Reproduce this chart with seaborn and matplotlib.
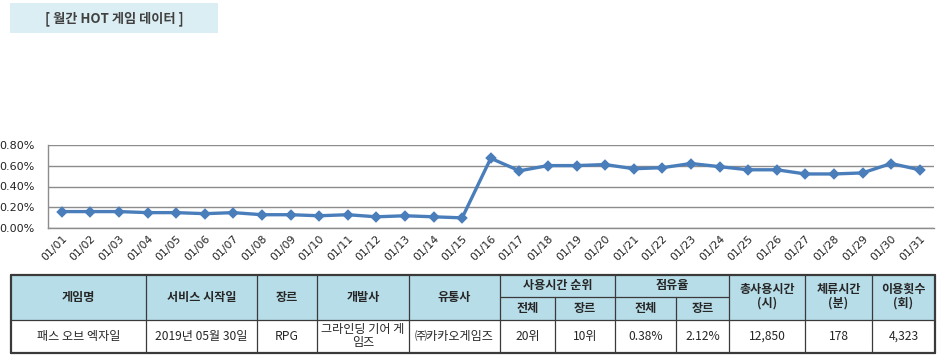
import matplotlib
matplotlib.use("Agg")
import matplotlib.pyplot as plt
import seaborn as sns
import pandas as pd
from matplotlib.patches import Rectangle
from matplotlib.ticker import FuncFormatter, FixedLocator

sns.set_theme(style="white")
plt.rcParams['font.family'] = ['Noto Sans CJK KR', 'DejaVu Sans']

# ---------------- data ----------------
title = "[ 월간 HOT 게임 데이터 ]"
dates = ["01/%02d" % d for d in range(1, 32)]
share = [0.16, 0.16, 0.16, 0.15, 0.15, 0.14, 0.15, 0.13, 0.13, 0.12,
         0.13, 0.11, 0.12, 0.11, 0.10, 0.67, 0.55, 0.60, 0.60, 0.61,
         0.57, 0.58, 0.62, 0.59, 0.56, 0.56, 0.52, 0.52, 0.53, 0.62, 0.56]
yticks = [0.0, 0.2, 0.4, 0.6, 0.8]

main_headers = ["게임명", "서비스 시작일", "장르", "개발사", "유통사"]
group_headers = ["사용시간 순위", "점유율"]
sub_headers = ["전체", "장르", "전체", "장르"]
tail_headers = ["총사용시간\n(시)", "체류시간\n(분)", "이용횟수\n(회)"]
row_values = ["패스 오브 엑자일", "2019년 05월 30일", "RPG", "그라인딩 기어 게\n임즈",
              "㈜카카오게임즈", "20위", "10위", "0.38%", "2.12%", "12,850", "178", "4,323"]

W, H = 940, 357
fig = plt.figure(figsize=(W / 100, H / 100), dpi=100)

# ---------------- chart ----------------
ax = fig.add_axes([47.5 / W, 1 - 228.3 / H, (934 - 47.5) / W, (228.3 - 144.7) / H])
df = pd.DataFrame({"date": dates, "share": share})
sns.pointplot(data=df, x="date", y="share", ax=ax, color="#4A7EBB",
              markers="D", markersize=3.8, linewidth=2.4, errorbar=None)
ax.set_xlim(-0.5, len(dates) - 0.5)
ax.set_ylim(0, 0.8)
ax.set_yticks(yticks)
ax.yaxis.set_major_formatter(FuncFormatter(lambda v, p: "%.2f%%" % v))
ax.grid(axis="y", color="#8C8C8C", linewidth=1.0)
ax.set_axisbelow(True)
ax.set_xlabel("")
ax.set_ylabel("")
for s in ["top", "right"]:
    ax.spines[s].set_visible(False)
for s in ["left", "bottom"]:
    ax.spines[s].set_color("#8C8C8C")
    ax.spines[s].set_linewidth(1.0)
ax.tick_params(axis="y", length=0, labelsize=8, pad=9, labelcolor="#222222")
ax.tick_params(axis="x", which="major", length=0, labelsize=7.8, pad=4,
               labelcolor="#222222")
ax.xaxis.set_minor_locator(FixedLocator([i - 0.5 for i in range(len(dates) + 1)]))
ax.tick_params(axis="x", which="minor", length=4, color="#8C8C8C", width=1)
ax.tick_params(axis="y", which="major", left=False)
for lbl in ax.get_xticklabels():
    lbl.set_rotation(45)
    lbl.set_ha("right")
    lbl.set_rotation_mode("anchor")
for lbl in ax.get_xticklabels() + ax.get_yticklabels():
    lbl.set_family(["DejaVu Sans"])

# ---------------- overlay (title box + table) ----------------
ov = fig.add_axes([0, 0, 1, 1], zorder=5)
ov.set_xlim(0, W)
ov.set_ylim(H, 0)
ov.axis("off")
ov.patch.set_alpha(0)

ov.add_patch(Rectangle((10, 3), 208, 30, facecolor="#DBEEF4", edgecolor="none"))
ov.text(114, 18.5, title, ha="center", va="center", fontsize=9.5,
        fontweight="bold", color="#404040")

cols = [11, 146, 257, 317, 409, 500, 555, 615, 676, 729, 805, 872, 935]
top, mid, hdr_bot, bot = 274.5, 297, 319.5, 353
hdr_col = "#B7DDE8"
line_col = "#3A3A3A"
ov.add_patch(Rectangle((cols[0], top), cols[-1] - cols[0], hdr_bot - top,
                       facecolor=hdr_col, edgecolor="none"))
# grid lines
for i, x in enumerate(cols):
    lw = 1.6 if i in (0, len(cols) - 1) else 0.9
    if i in (6, 8):
        ov.plot([x, x], [mid, bot], color=line_col, lw=lw)
    else:
        ov.plot([x, x], [top, bot], color=line_col, lw=lw)
ov.plot([cols[0], cols[-1]], [top, top], color=line_col, lw=1.6)
ov.plot([cols[0], cols[-1]], [bot, bot], color=line_col, lw=1.6)
ov.plot([cols[0], cols[-1]], [hdr_bot, hdr_bot], color=line_col, lw=0.9)
ov.plot([cols[5], cols[9]], [mid, mid], color=line_col, lw=0.9)

hfs = 8.7
hc = "#262626"
for i, t in enumerate(main_headers):
    ov.text((cols[i] + cols[i + 1]) / 2, (top + hdr_bot) / 2, t, ha="center",
            va="center", fontsize=hfs, fontweight="bold", color=hc)
for g, t in enumerate(group_headers):
    x0, x1 = cols[5 + 2 * g], cols[7 + 2 * g]
    ov.text((x0 + x1) / 2, (top + mid) / 2, t, ha="center", va="center",
            fontsize=hfs, fontweight="bold", color=hc)
for j, t in enumerate(sub_headers):
    ov.text((cols[5 + j] + cols[6 + j]) / 2, (mid + hdr_bot) / 2, t, ha="center",
            va="center", fontsize=hfs, fontweight="bold", color=hc)
for k, t in enumerate(tail_headers):
    ov.text((cols[9 + k] + cols[10 + k]) / 2, (top + hdr_bot) / 2 - 1, t,
            ha="center", va="center", fontsize=hfs, fontweight="bold", color=hc,
            linespacing=1.1)
for i, t in enumerate(row_values):
    ov.text((cols[i] + cols[i + 1]) / 2, (hdr_bot + bot) / 2, t, ha="center",
            va="center", fontsize=hfs, color=hc, linespacing=1.0)

fig.savefig("out.png", dpi=100)
